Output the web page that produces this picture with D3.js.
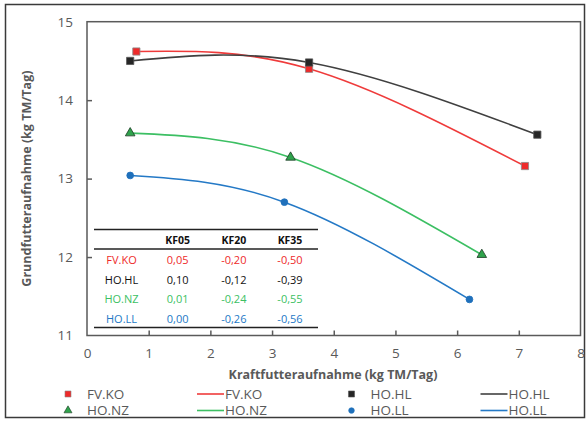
<!DOCTYPE html>
<html>
<head>
<meta charset="utf-8">
<script src="https://cdn.jsdelivr.net/npm/d3@7"></script>
<style>
body{margin:0;background:#fff;font-family:"Open Sans","Noto Sans",sans-serif;}
</style>
</head>
<body>
<div id="chart"></div>
<script>
// series data (Kraftfutteraufnahme, Grundfutteraufnahme)
const fvKO_x = [0.8, 3.6, 7.1];
const fvKO_y = [14.62, 14.40, 13.16];
const hoHL_x = [0.7, 3.6, 7.3];
const hoHL_y = [14.50, 14.48, 13.56];
const hoNZ_x = [0.7, 3.3, 6.4];
const hoNZ_y = [13.58, 13.27, 12.03];
const hoLL_x = [0.7, 3.2, 6.2];
const hoLL_y = [13.04, 12.70, 11.46];

const xTicks = [0,1,2,3,4,5,6,7,8];
const yTicks = [11,12,13,14,15];

// inset table
const tableCols = ["KF05","KF20","KF35"];
const tableRows = ["FV.KO","HO.HL","HO.NZ","HO.LL"];
const tableVals = [["0,05","-0,20","-0,50"],["0,10","-0,12","-0,39"],["0,01","-0,24","-0,55"],["0,00","-0,26","-0,56"]];

const series = [
  {name:"FV.KO", xs:fvKO_x, ys:fvKO_y, line:"#ef3b3b", fill:"#ee2a2a", stroke:"#8a8a8a", sym:d3.symbolSquare, size:52},
  {name:"HO.HL", xs:hoHL_x, ys:hoHL_y, line:"#404040", fill:"#262626", stroke:"#555", sym:d3.symbolSquare, size:52},
  {name:"HO.NZ", xs:hoNZ_x, ys:hoNZ_y, line:"#3cbf63", fill:"#2fa34c", stroke:"#1d3b24", sym:d3.symbolTriangle, size:40},
  {name:"HO.LL", xs:hoLL_x, ys:hoLL_y, line:"#2479c6", fill:"#1f70bb", stroke:"#1f70bb", sym:d3.symbolCircle, size:36}
];
const tableColors = ["#ee2a2a","#111","#3cbf63","#2479c6"];

const W=587,H=421, M={top:21.7,right:6.5,bottom:85.5,left:87};
const svg=d3.select("#chart").append("svg").attr("width",W).attr("height",H);

svg.append("rect").attr("x",5.5).attr("y",4.5).attr("width",579).attr("height",413)
  .attr("fill","#fff").attr("stroke","#3a3a3a").attr("stroke-width",1.5);

const x=d3.scaleLinear().domain([0,8]).range([M.left,W-M.right]);
const y=d3.scaleLinear().domain([11,15]).range([H-M.bottom,M.top]);

// plot frame
svg.append("rect").attr("x",x(0)).attr("y",y(15)).attr("width",x(8)-x(0)).attr("height",y(11)-y(15))
  .attr("fill","none").attr("stroke","#5a5a5a").attr("stroke-width",1.5);

const gx=svg.append("g").attr("transform",`translate(0,${y(11)})`)
  .call(d3.axisBottom(x).tickValues(xTicks).tickSize(-5).tickPadding(13).tickFormat(d3.format("d")));
const gy=svg.append("g").attr("transform",`translate(${x(0)},0)`)
  .call(d3.axisLeft(y).tickValues(yTicks).tickSize(-5).tickPadding(14).tickFormat(d3.format("d")));
[gx,gy].forEach(g=>{
  g.select(".domain").remove();
  g.selectAll(".tick line").attr("stroke","#5a5a5a").attr("stroke-width",1.5);
  g.selectAll(".tick text").attr("fill","#595959").style("font-size","13.5px").style("font-family","'Open Sans',sans-serif");
});
gx.selectAll(".tick").filter(d=>d===0||d===8).select("line").remove();
gy.selectAll(".tick").filter(d=>d===11||d===15).select("line").remove();

svg.append("text").attr("x",333).attr("y",379).attr("text-anchor","middle")
  .attr("fill","#595959").style("font-size","12.5px").style("font-weight","bold")
  .text("Kraftfutteraufnahme (kg TM/Tag)");
svg.append("text").attr("transform",`translate(31,${(y(11)+y(15))/2}) rotate(-90)`).attr("text-anchor","middle")
  .attr("fill","#595959").style("font-size","12.5px").style("font-weight","bold")
  .text("Grundfutteraufnahme (kg TM/Tag)");

const line=d3.line().x(d=>x(d[0])).y(d=>y(d[1])).curve(d3.curveNatural);
series.forEach(s=>{
  const pts=s.xs.map((v,i)=>[v,s.ys[i]]);
  svg.append("path").datum(pts).attr("fill","none").attr("stroke",s.line).attr("stroke-width",1.6).attr("d",line);
});
series.forEach(s=>{
  const pts=s.xs.map((v,i)=>[v,s.ys[i]]);
  svg.selectAll(null).data(pts).join("path")
    .attr("transform",d=>`translate(${x(d[0])},${y(d[1])})`)
    .attr("d",d3.symbol().type(s.sym).size(s.size))
    .attr("fill",s.fill).attr("stroke",s.stroke).attr("stroke-width",0.8);
});

// inset table
const tx=d3.scalePoint().domain(["label",...tableCols]).range([121.5,290]);
const tLeft=94, tRight=318;
const rowY=d3.scalePoint().domain(["head",...tableRows]).range([240,319.5]);
const tbl=svg.append("g").style("font-family","'Open Sans',sans-serif");
[229.5,249,327.5].forEach(v=>tbl.append("line").attr("x1",tLeft).attr("x2",tRight).attr("y1",v).attr("y2",v)
  .attr("stroke","#222").attr("stroke-width",1.6));
tableCols.forEach(c=>tbl.append("text").attr("x",tx(c)).attr("y",rowY("head")).attr("dy","0.35em")
  .attr("text-anchor","middle").style("font-size","10.5px").style("font-weight","bold").attr("fill","#111").text(c));
tableRows.forEach((r,i)=>{
  tbl.append("text").attr("x",tx("label")).attr("y",rowY(r)).attr("dy","0.35em").attr("text-anchor","middle")
    .style("font-size","11px").attr("fill",tableColors[i]).text(r);
  tableVals[i].forEach((v,j)=>tbl.append("text").attr("x",tx(tableCols[j])).attr("y",rowY(r)).attr("dy","0.35em")
    .attr("text-anchor","middle").style("font-size","11px").attr("fill",tableColors[i]).text(v));
});

// legend
const legCols=[68,351.5], legRows=[394,410.5];
series.forEach((s,k)=>{
  const cx=legCols[k%2], cy=legRows[Math.floor(k/2)];
  const g=svg.append("g").style("font-family","'Open Sans',sans-serif");
  g.append("path").attr("transform",`translate(${cx},${cy})`).attr("d",d3.symbol().type(s.sym).size(s.size*0.7))
    .attr("fill",s.fill).attr("stroke",s.stroke).attr("stroke-width",0.6);
  g.append("text").attr("x",cx+19).attr("y",cy).attr("dy","0.35em").attr("fill","#595959").style("font-size","13.5px").text(s.name);
  const lx=cx+129;
  g.append("line").attr("x1",lx).attr("x2",lx+27).attr("y1",cy).attr("y2",cy).attr("stroke",s.line).attr("stroke-width",1.6);
  g.append("text").attr("x",lx+28).attr("y",cy).attr("dy","0.35em").attr("fill","#595959").style("font-size","13.5px").text(s.name);
});
</script>
</body>
</html>
